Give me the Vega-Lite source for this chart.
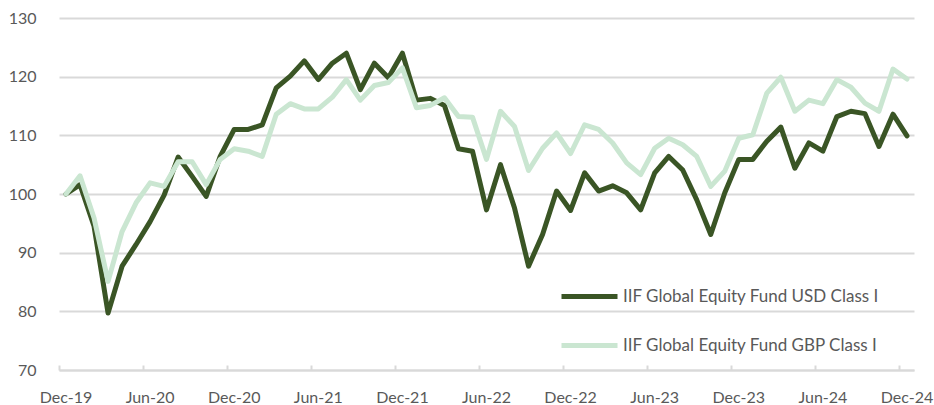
{
  "$schema": "https://vega.github.io/schema/vega-lite/v6.json",
  "width": 855,
  "height": 352,
  "autosize": "none",
  "padding": {"left": 59, "top": 18, "right": 20, "bottom": 35},
  "background": "white",
  "config": {
    "view": {"stroke": null},
    "font": "Lato"
  },
  "data": {
    "values": [
      {"m": "Dec-19", "USD": 100.0, "GBP": 100.0},
      {"m": "Jan-20", "USD": 101.6, "GBP": 103.1},
      {"m": "Feb-20", "USD": 94.5, "GBP": 95.9},
      {"m": "Mar-20", "USD": 79.7, "GBP": 85.1},
      {"m": "Apr-20", "USD": 87.7, "GBP": 93.6},
      {"m": "May-20", "USD": 91.4, "GBP": 98.5},
      {"m": "Jun-20", "USD": 95.3, "GBP": 101.9},
      {"m": "Jul-20", "USD": 99.8, "GBP": 101.3},
      {"m": "Aug-20", "USD": 106.3, "GBP": 105.5},
      {"m": "Sep-20", "USD": 103.0, "GBP": 105.5},
      {"m": "Oct-20", "USD": 99.6, "GBP": 101.6},
      {"m": "Nov-20", "USD": 106.4, "GBP": 105.9},
      {"m": "Dec-20", "USD": 111.0, "GBP": 107.7},
      {"m": "Jan-21", "USD": 111.0, "GBP": 107.3},
      {"m": "Feb-21", "USD": 111.8, "GBP": 106.4},
      {"m": "Mar-21", "USD": 118.1, "GBP": 113.6},
      {"m": "Apr-21", "USD": 120.1, "GBP": 115.4},
      {"m": "May-21", "USD": 122.7, "GBP": 114.5},
      {"m": "Jun-21", "USD": 119.5, "GBP": 114.5},
      {"m": "Jul-21", "USD": 122.3, "GBP": 116.5},
      {"m": "Aug-21", "USD": 124.0, "GBP": 119.5},
      {"m": "Sep-21", "USD": 117.8, "GBP": 116.0},
      {"m": "Oct-21", "USD": 122.3, "GBP": 118.5},
      {"m": "Nov-21", "USD": 119.8, "GBP": 119.0},
      {"m": "Dec-21", "USD": 124.0, "GBP": 121.5},
      {"m": "Jan-22", "USD": 116.0, "GBP": 114.7},
      {"m": "Feb-22", "USD": 116.3, "GBP": 115.1},
      {"m": "Mar-22", "USD": 115.1, "GBP": 116.4},
      {"m": "Apr-22", "USD": 107.7, "GBP": 113.2},
      {"m": "May-22", "USD": 107.3, "GBP": 113.1},
      {"m": "Jun-22", "USD": 97.3, "GBP": 105.9},
      {"m": "Jul-22", "USD": 105.0, "GBP": 114.1},
      {"m": "Aug-22", "USD": 97.6, "GBP": 111.5},
      {"m": "Sep-22", "USD": 87.7, "GBP": 104.0},
      {"m": "Oct-22", "USD": 93.1, "GBP": 107.8},
      {"m": "Nov-22", "USD": 100.5, "GBP": 110.4},
      {"m": "Dec-22", "USD": 97.2, "GBP": 106.9},
      {"m": "Jan-23", "USD": 103.6, "GBP": 111.8},
      {"m": "Feb-23", "USD": 100.5, "GBP": 111.0},
      {"m": "Mar-23", "USD": 101.4, "GBP": 108.7},
      {"m": "Apr-23", "USD": 100.2, "GBP": 105.3},
      {"m": "May-23", "USD": 97.3, "GBP": 103.3},
      {"m": "Jun-23", "USD": 103.6, "GBP": 107.8},
      {"m": "Jul-23", "USD": 106.4, "GBP": 109.5},
      {"m": "Aug-23", "USD": 104.1, "GBP": 108.4},
      {"m": "Sep-23", "USD": 99.0, "GBP": 106.4},
      {"m": "Oct-23", "USD": 93.1, "GBP": 101.3},
      {"m": "Nov-23", "USD": 100.2, "GBP": 103.9},
      {"m": "Dec-23", "USD": 105.9, "GBP": 109.5},
      {"m": "Jan-24", "USD": 105.9, "GBP": 110.1},
      {"m": "Feb-24", "USD": 109.0, "GBP": 117.2},
      {"m": "Mar-24", "USD": 111.4, "GBP": 119.9},
      {"m": "Apr-24", "USD": 104.4, "GBP": 114.1},
      {"m": "May-24", "USD": 108.7, "GBP": 116.0},
      {"m": "Jun-24", "USD": 107.3, "GBP": 115.4},
      {"m": "Jul-24", "USD": 113.2, "GBP": 119.5},
      {"m": "Aug-24", "USD": 114.1, "GBP": 118.2},
      {"m": "Sep-24", "USD": 113.7, "GBP": 115.5},
      {"m": "Oct-24", "USD": 108.1, "GBP": 114.1},
      {"m": "Nov-24", "USD": 113.6, "GBP": 121.3},
      {"m": "Dec-24", "USD": 109.9, "GBP": 119.6}
    ]
  },
  "transform": [
    {"fold": ["USD", "GBP"], "as": ["series", "value"]}
  ],
  "encoding": {
    "x": {
      "field": "m",
      "type": "ordinal",
      "sort": null,
      "scale": {"type": "band", "paddingInner": 0, "paddingOuter": 0},
      "axis": {
        "title": null,
        "values": ["Dec-19", "Jun-20", "Dec-20", "Jun-21", "Dec-21", "Jun-22", "Dec-22", "Jun-23", "Dec-23", "Jun-24", "Dec-24"],
        "bandPosition": 0,
        "labelOffset": 0,
        "labelAngle": 0,
        "labelFontSize": 16,
        "labelColor": "#595959",
        "labelPadding": 24,
        "labelFont": "Lato",
        "labelBound": false,
        "domainColor": "#d9d9d9",
        "domainWidth": 2,
        "tickColor": "#d9d9d9",
        "tickWidth": 2,
        "tickSize": -5,
        "grid": false
      }
    },
    "y": {
      "field": "value",
      "type": "quantitative",
      "scale": {"domain": [70, 130], "nice": false, "zero": false},
      "axis": {
        "title": null,
        "values": [70, 80, 90, 100, 110, 120, 130],
        "labelFontSize": 16,
        "labelColor": "#595959",
        "labelFont": "Lato",
        "labelPadding": 23,
        "domain": false,
        "ticks": false,
        "grid": true,
        "gridColor": "#d9d9d9",
        "gridWidth": 2
      }
    },
    "color": {
      "field": "series",
      "type": "nominal",
      "scale": {"domain": ["USD", "GBP"], "range": ["#3a5525", "#cae6d1"]},
      "legend": {
        "title": null,
        "orient": "none",
        "legendX": 500,
        "legendY": 248,
        "padding": 0,
        "symbolType": "stroke",
        "symbolSize": 3136,
        "symbolStrokeWidth": 5,
        "labelFontSize": 17,
        "labelFont": "Lato",
        "labelColor": "#595959",
        "labelOffset": 3,
        "labelLimit": 400,
        "rowPadding": 8,
        "labelExpr": "datum.label == 'USD' ? 'IIF Global Equity Fund USD Class I' : 'IIF Global Equity Fund GBP Class I'"
      }
    }
  },
  "layer": [
    {
      "transform": [{"filter": "datum.series == 'USD'"}],
      "mark": {"type": "line", "strokeWidth": 5, "strokeJoin": "round", "strokeCap": "round"}
    },
    {
      "transform": [{"filter": "datum.series == 'GBP'"}],
      "mark": {"type": "line", "strokeWidth": 5, "strokeJoin": "round", "strokeCap": "round"}
    }
  ]
}
